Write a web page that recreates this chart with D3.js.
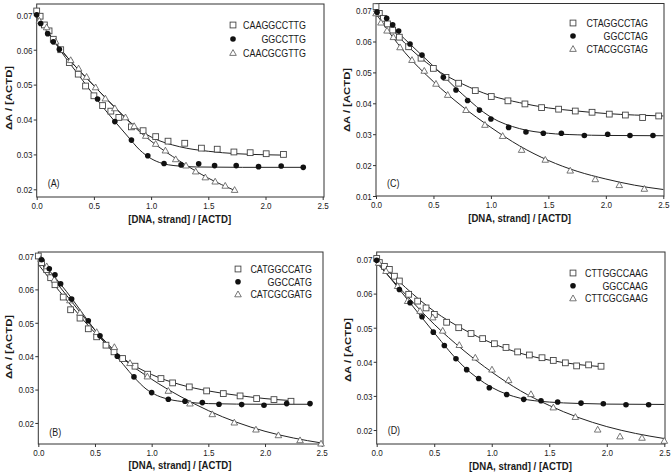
<!DOCTYPE html>
<head>
  <meta charset="utf-8">
  <script src="https://d3js.org/d3.v7.min.js"></script>
  <style>
    body { margin:0; background:#fff; }
    text { font-family: "Liberation Sans", Arial, sans-serif; fill:#1a1a1a; }
  </style>
</head>
<body>
<script>
  // ---- data: [x, y] pairs ----
  // (A)
  var aSquares = [[0,0.0711],[0.03,0.0696],[0.067,0.0671],[0.108,0.0654],[0.145,0.063],[0.21,0.060],[0.285,0.0563],[0.363,0.053],[0.427,0.0496],[0.50,0.0468],[0.576,0.044],[0.648,0.0424],[0.718,0.0406],[0.828,0.0379],[0.93,0.0368],[1.04,0.0351],[1.148,0.0338],[1.294,0.0332],[1.44,0.0318],[1.578,0.0315],[1.724,0.0307],[1.866,0.0305],[2.006,0.0302],[2.157,0.030]];
  var aCircles = [[0,0.070],[0.035,0.0675],[0.096,0.0646],[0.145,0.0623],[0.198,0.0601],[0.532,0.0459],[0.683,0.0394],[0.828,0.0341],[0.971,0.0296],[1.113,0.0274],[1.262,0.027],[1.416,0.0273],[1.555,0.0268],[1.744,0.0268],[1.939,0.0265],[2.137,0.0267],[2.33,0.0263]];
  var aTriangles = [[0.023,0.0683],[0.087,0.0664],[0.166,0.0623],[0.297,0.057],[0.366,0.0546],[0.436,0.0522],[0.515,0.0492],[0.60,0.046],[0.683,0.0432],[0.776,0.0406],[0.852,0.0381],[0.953,0.0353],[1.04,0.033],[1.125,0.0311],[1.215,0.0286],[1.305,0.0268],[1.39,0.0251],[1.474,0.0234],[1.56,0.0222],[1.648,0.021],[1.73,0.0198]];
  var aFitSquares = [[0,0.0695],[0.25,0.0585],[0.5,0.0497],[0.75,0.0413],[0.9,0.037],[1.0,0.035],[1.25,0.0322],[1.5,0.0309],[1.75,0.0302],[2.0,0.0299],[2.16,0.0298]];
  var aFitCircles = [[0,0.070],[0.2,0.0601],[0.4,0.0513],[0.6,0.0427],[0.7,0.0388],[0.8,0.035],[0.9,0.0313],[1.0,0.0288],[1.1,0.0274],[1.2,0.0268],[1.4,0.0264],[1.8,0.0263],[2.33,0.0263]];
  var aFitTriangles = [[0,0.0695],[0.25,0.0585],[0.5,0.0497],[0.75,0.0413],[0.9,0.0365],[1.0,0.0338],[1.25,0.0281],[1.5,0.0232],[1.73,0.0197]];
  var aNames = ["CAAGGCCTTG", "GGCCTTG", "CAACGCGTTG"];

  // (B)
  var bSquares = [[0,0.070],[0.029,0.068],[0.074,0.0659],[0.109,0.0635],[0.147,0.0614],[0.22,0.0577],[0.285,0.0539],[0.368,0.0514],[0.441,0.0482],[0.515,0.0458],[0.597,0.0433],[0.668,0.0413],[0.744,0.0393],[0.853,0.037],[0.965,0.0346],[1.082,0.0333],[1.185,0.032],[1.332,0.0308],[1.485,0.0296],[1.632,0.0288],[1.78,0.0281],[1.926,0.0273],[2.079,0.027],[2.229,0.0265]];
  var bCircles = [[0.029,0.0689],[0.097,0.0662],[0.147,0.0644],[0.197,0.0617],[0.294,0.0571],[0.441,0.0506],[0.544,0.0461],[0.697,0.040],[0.844,0.0338],[1.0,0.0291],[1.147,0.0271],[1.294,0.0265],[1.447,0.0261],[1.594,0.0256],[1.794,0.0255],[1.991,0.0253],[2.191,0.0258],[2.397,0.0258]];
  var bTriangles = [[0.024,0.0691],[0.074,0.0669],[0.141,0.0629],[0.279,0.0567],[0.368,0.053],[0.515,0.0472],[0.671,0.0427],[0.809,0.0379],[0.962,0.0339],[1.147,0.0296],[1.338,0.0258],[1.535,0.0226],[1.729,0.0201],[1.92,0.018],[2.118,0.0163],[2.309,0.0148],[2.494,0.0138]];
  var bFitSquares = [[0,0.0675],[0.25,0.0568],[0.5,0.047],[0.75,0.0393],[1.0,0.0345],[1.25,0.0315],[1.5,0.0296],[1.75,0.0283],[2.0,0.0273],[2.23,0.0267]];
  var bFitCircles = [[0,0.0695],[0.25,0.0593],[0.5,0.0478],[0.75,0.0375],[0.85,0.0335],[0.95,0.0302],[1.05,0.0282],[1.15,0.0271],[1.3,0.0263],[1.5,0.0258],[2.0,0.0256],[2.4,0.0256]];
  var bFitTriangles = [[0,0.0688],[0.25,0.0582],[0.5,0.0478],[0.75,0.0392],[1.0,0.0331],[1.25,0.028],[1.5,0.0237],[1.75,0.0202],[2.0,0.0175],[2.25,0.0155],[2.5,0.014]];
  var bNames = ["CATGGCCATG", "GGCCATG", "CATCGCGATG"];

  // (C)
  var cSquares = [[0,0.0713],[0.029,0.0691],[0.064,0.0675],[0.10,0.0657],[0.145,0.0637],[0.203,0.0614],[0.284,0.0583],[0.392,0.0546],[0.499,0.0513],[0.609,0.0484],[0.719,0.0465],[0.864,0.0441],[1.003,0.0422],[1.148,0.0408],[1.296,0.0398],[1.441,0.0386],[1.589,0.0381],[1.734,0.0375],[1.88,0.0371],[2.03,0.0365],[2.17,0.0362],[2.32,0.0354],[2.46,0.0359]];
  var cCircles = [[0.009,0.0695],[0.093,0.0675],[0.145,0.0654],[0.197,0.0634],[0.296,0.0592],[0.40,0.0556],[0.586,0.0484],[0.696,0.0443],[0.797,0.0409],[0.90,0.0378],[1.0,0.0349],[1.154,0.0322],[1.305,0.0307],[1.456,0.0303],[1.613,0.0303],[1.813,0.0296],[2.016,0.030],[2.21,0.0296],[2.41,0.0296]];
  var cTriangles = [[0,0.0691],[0.043,0.0661],[0.096,0.0635],[0.151,0.0614],[0.209,0.0581],[0.313,0.054],[0.42,0.0505],[0.522,0.0463],[0.624,0.0427],[0.783,0.0378],[0.948,0.033],[1.102,0.0294],[1.267,0.0249],[1.473,0.0217],[1.69,0.0182],[1.908,0.0154],[2.117,0.0135],[2.335,0.0123]];
  var cFitSquares = [[0,0.0705],[0.25,0.0595],[0.5,0.0515],[0.75,0.0463],[1.0,0.0425],[1.25,0.0402],[1.5,0.0385],[1.75,0.0375],[2.0,0.0367],[2.25,0.0362],[2.5,0.0359]];
  var cFitCircles = [[0,0.070],[0.25,0.0608],[0.5,0.052],[0.75,0.043],[1.0,0.0355],[1.25,0.0318],[1.5,0.0303],[1.75,0.0298],[2.0,0.0296],[2.5,0.0295]];
  var cFitTriangles = [[0,0.069],[0.25,0.0565],[0.5,0.047],[0.75,0.039],[1.0,0.0322],[1.25,0.0262],[1.5,0.0215],[1.75,0.018],[2.0,0.0155],[2.25,0.0135],[2.5,0.0121]];
  var cNames = ["CTAGGCCTAG", "GGCCTAG", "CTACGCGTAG"];

  // (D)
  var dSquares = [[0,0.0703],[0.023,0.0691],[0.067,0.068],[0.11,0.0671],[0.154,0.0651],[0.197,0.0637],[0.278,0.0598],[0.356,0.0578],[0.429,0.0558],[0.501,0.0539],[0.608,0.0516],[0.713,0.050],[0.82,0.0483],[0.921,0.0468],[1.023,0.0453],[1.124,0.0442],[1.225,0.0429],[1.327,0.042],[1.437,0.0412],[1.535,0.0404],[1.64,0.0397],[1.738,0.0388],[1.842,0.0391],[1.95,0.0387]];
  var dCircles = [[0,0.0698],[0.197,0.0612],[0.29,0.0573],[0.394,0.0532],[0.492,0.0487],[0.588,0.0448],[0.689,0.0409],[0.782,0.0377],[0.886,0.0351],[0.979,0.0324],[1.13,0.0304],[1.278,0.029],[1.428,0.0286],[1.573,0.0282],[1.776,0.0279],[1.97,0.0277],[2.167,0.0274],[2.364,0.0274]];
  var dTriangles = [[0.017,0.069],[0.081,0.0666],[0.182,0.0622],[0.269,0.0578],[0.377,0.0549],[0.487,0.053],[0.574,0.0491],[0.718,0.0449],[0.857,0.0412],[1.002,0.0377],[1.147,0.0346],[1.341,0.0305],[1.535,0.0266],[1.727,0.0238],[1.921,0.0201],[2.115,0.0181],[2.306,0.0177],[2.5,0.0168]];
  var dFitSquares = [[0,0.070],[0.25,0.0618],[0.5,0.0548],[0.75,0.0496],[1.0,0.0455],[1.25,0.0425],[1.5,0.0405],[1.75,0.0392],[1.95,0.0386]];
  var dFitCircles = [[0,0.0695],[0.25,0.059],[0.5,0.0485],[0.75,0.0388],[1.0,0.0325],[1.25,0.0293],[1.5,0.0282],[1.75,0.0278],[2.0,0.0276],[2.5,0.0275]];
  var dFitTriangles = [[0,0.069],[0.25,0.0598],[0.5,0.051],[0.75,0.0435],[1.0,0.037],[1.25,0.0315],[1.5,0.0272],[1.75,0.0237],[2.0,0.021],[2.25,0.019],[2.5,0.0175]];
  var dNames = ["CTTGGCCAAG", "GGCCAAG", "CTTCGCGAAG"];

  var xTicks = [0, 0.5, 1.0, 1.5, 2.0, 2.5];
  var yTicksAll = [0.01, 0.02, 0.03, 0.04, 0.05, 0.06, 0.07];
  var xLabel = "[DNA, strand] / [ACTD]";
  var yLabel = "\u0394A / [ACTD]";

  // ---- layout (pixel positions of each panel) ----
  var panels = [
    {tag:"(A)", sq:aSquares, ci:aCircles, tr:aTriangles, fsq:aFitSquares, fci:aFitCircles, ftr:aFitTriangles, names:aNames,
     x0:36.7, x1:322.7, right:324, top:4, bottom:197, yMin:0.0178, yMax:0.0731,
     legX:233, legTx:306, legY:25, legDy:14, yTitleX:8, yTitleY:98, xTitleY:223, tagY:187},
    {tag:"(C)", sq:cSquares, ci:cCircles, tr:cTriangles, fsq:cFitSquares, fci:cFitCircles, ftr:cFitTriangles, names:cNames,
     x0:376, x1:663.3, right:664, top:3.5, bottom:196, yMin:0.01, yMax:0.0723,
     legX:573, legTx:648, legY:23, legDy:13, yTitleX:346, yTitleY:100, xTitleY:222, tagY:187},
    {tag:"(B)", sq:bSquares, ci:bCircles, tr:bTriangles, fsq:bFitSquares, fci:bFitCircles, ftr:bFitTriangles, names:bNames,
     x0:38.3, x1:321.7, right:323, top:252, bottom:444, yMin:0.0137, yMax:0.0712,
     legX:238, legTx:312, legY:269, legDy:12.7, yTitleX:7.5, yTitleY:347, xTitleY:469, tagY:436},
    {tag:"(D)", sq:dSquares, ci:dCircles, tr:dTriangles, fsq:dFitSquares, fci:dFitCircles, ftr:dFitTriangles, names:dNames,
     x0:376.7, x1:664.3, right:665, top:252, bottom:444, yMin:0.0159, yMax:0.0722,
     legX:573, legTx:648, legY:273, legDy:12.7, yTitleX:347, yTitleY:350, xTitleY:470, tagY:434}
  ];

  var squeeze = 0.85; // the figure's lettering is narrower than regular Arial

  var svg = d3.select("body").append("svg")
    .attr("width", 672)
    .attr("height", 475);

  var triPath = "M0,-3.4L3.3,2.4L-3.3,2.4Z";

  function drawMarker(g, kind, x, y) {
    if (kind === "sq") {
      g.append("rect").attr("x", x - 2.9).attr("y", y - 2.9)
        .attr("width", 5.8).attr("height", 5.8)
        .attr("fill", "#fff").attr("stroke", "#444").attr("stroke-width", 0.9);
    } else if (kind === "ci") {
      g.append("circle").attr("cx", x).attr("cy", y).attr("r", 2.8)
        .attr("fill", "#111");
    } else {
      g.append("path").attr("d", triPath)
        .attr("transform", "translate(" + x + "," + y + ")")
        .attr("fill", "#fff").attr("stroke", "#555").attr("stroke-width", 0.8);
    }
  }

  panels.forEach(function(p) {
    var xScale = d3.scaleLinear().domain([0, 2.5]).range([p.x0, p.x1]);
    var yScale = d3.scaleLinear().domain([p.yMin, p.yMax]).range([p.bottom, p.top]);
    var g = svg.append("g");

    // frame
    g.append("rect")
      .attr("x", p.x0).attr("y", p.top)
      .attr("width", p.right - p.x0).attr("height", p.bottom - p.top)
      .attr("fill", "none").attr("stroke", "#333").attr("stroke-width", 1);

    // axes
    var yTicks = yTicksAll.filter(function(v) { return v >= p.yMin - 1e-9 && v <= p.yMax; });
    var xAxis = g.append("g").attr("transform", "translate(0," + p.bottom + ")")
      .call(d3.axisBottom(xScale).tickValues(xTicks).tickFormat(d3.format(".1f")).tickSizeOuter(0).tickSize(3).tickPadding(2));
    var yAxis = g.append("g").attr("transform", "translate(" + p.x0 + ",0)")
      .call(d3.axisLeft(yScale).tickValues(yTicks).tickFormat(d3.format(".2f")).tickSizeOuter(0).tickSize(3).tickPadding(2));
    [xAxis, yAxis].forEach(function(ax) {
      ax.select(".domain").remove();
      ax.selectAll("line").attr("stroke", "#333");
      ax.selectAll("text").attr("font-size", 9.5).attr("fill", "#1a1a1a")
        .attr("font-family", "Liberation Sans, Arial, sans-serif");
    });
    yAxis.selectAll("text").attr("transform", "scale(" + squeeze + ",1)").attr("dy", "0.35em");
    xAxis.selectAll("text").attr("transform", "scale(" + squeeze + ",1)");

    // fitted curves
    var line = d3.line()
      .x(function(d) { return xScale(d[0]); })
      .y(function(d) { return yScale(d[1]); })
      .curve(d3.curveMonotoneX);
    [p.fsq, p.fci, p.ftr].forEach(function(f) {
      g.append("path").attr("d", line(f))
        .attr("fill", "none").attr("stroke", "#222").attr("stroke-width", 1);
    });

    // points
    p.sq.forEach(function(d) { drawMarker(g, "sq", xScale(d[0]), yScale(d[1])); });
    p.tr.forEach(function(d) { drawMarker(g, "tr", xScale(d[0]), yScale(d[1])); });
    p.ci.forEach(function(d) { drawMarker(g, "ci", xScale(d[0]), yScale(d[1])); });

    // legend
    ["sq", "ci", "tr"].forEach(function(kind, i) {
      var ly = p.legY + i * p.legDy;
      drawMarker(g, kind, p.legX, ly);
      g.append("text")
        .attr("transform", "translate(" + p.legTx + "," + (ly + 4) + ") scale(" + squeeze + ",1)")
        .attr("text-anchor", "end").attr("font-size", 10.5)
        .text(p.names[i]);
    });

    // panel tag
    g.append("text")
      .attr("transform", "translate(" + (p.x0 + 11) + "," + p.tagY + ") scale(" + squeeze + ",1)")
      .attr("font-size", 10.5).text(p.tag);

    // axis titles
    g.append("text")
      .attr("transform", "translate(" + ((p.x0 + p.x1) / 2) + "," + p.xTitleY + ") scale(" + squeeze + ",1)")
      .attr("text-anchor", "middle").attr("font-size", 11.3).attr("font-weight", "bold")
      .text(xLabel);
    g.append("text")
      .attr("transform", "translate(" + (p.yTitleX + 4) + "," + p.yTitleY + ") scale(" + squeeze + ",1) rotate(-90)")
      .attr("text-anchor", "middle").attr("font-size", 11.3).attr("font-weight", "bold")
      .text(yLabel);
  });
</script>
</body>
